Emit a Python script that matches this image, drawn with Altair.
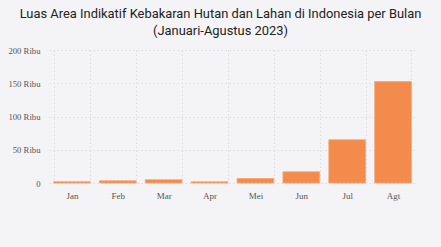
import altair as alt
import pandas as pd

months = ["Jan", "Feb", "Mar", "Apr", "Mei", "Jun", "Jul", "Agt"]
area_ha = [2000, 3200, 4900, 1800, 6800, 16800, 65000, 152500]

df = pd.DataFrame({"bulan": months, "luas": area_ha})

grid_color = "#dcdcde"

chart = alt.Chart(df).mark_bar(
    color="#f28b4b", stroke="#f6a56f", strokeWidth=0.8
).encode(
    x=alt.X("bulan:N", sort=months, title=None,
            scale=alt.Scale(paddingInner=0.2, paddingOuter=0.1),
            axis=alt.Axis(labelAngle=0, tickBand="extent", grid=True, ticks=False,
                          domain=False, gridDash=[1.5, 2.5], gridColor=grid_color,
                          labelFont="Liberation Serif", labelFontSize=9,
                          labelColor="#555", labelPadding=8)),
    y=alt.Y("luas:Q", title=None,
            scale=alt.Scale(domain=[0, 200000]),
            axis=alt.Axis(values=[0, 50000, 100000, 150000, 200000], grid=True,
                          gridDash=[1.5, 2.5], gridColor=grid_color, ticks=False, domain=False,
                          labelFont="Liberation Serif", labelFontSize=8.7, labelColor="#555",
                          labelPadding=9,
                          labelExpr="datum.value == 0 ? '0' : format(datum.value/1000, 'd') + ' Ribu'")),
).properties(
    width=367, height=133,
    title=alt.TitleParams(
        text=["Luas Area Indikatif Kebakaran Hutan dan Lahan di Indonesia per Bulan",
              "(Januari-Agustus 2023)"],
        anchor="middle", font="Roboto", fontSize=12.9, fontWeight="normal",
        color="#222", lineHeight=17.5, offset=8, dx=-12),
    background="#f4f4f6",
    autosize=alt.AutoSizeParams(type="none"),
    padding={"left": 49, "top": 50, "right": 25, "bottom": 64},
).configure_view(stroke=None)

chart.save("out.html", embed_options={"renderer": "svg", "actions": False})
